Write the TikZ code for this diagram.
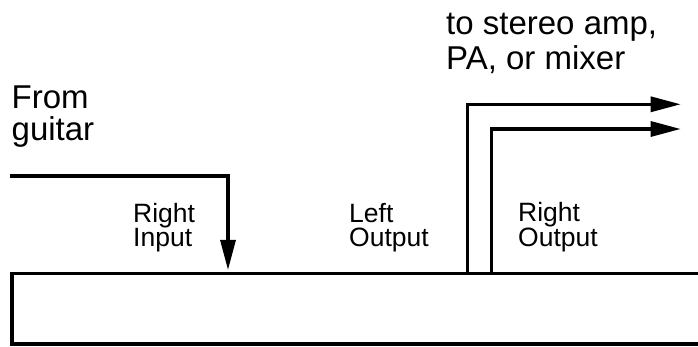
\documentclass[tikz,border=0pt]{standalone}
\usepackage{fontspec}
\setmainfont{Liberation Sans}
\usetikzlibrary{arrows.meta}
\begin{document}
\begin{tikzpicture}[x=1pt,y=1pt,
  wire/.style={line width=3.2pt},
  arrowwire/.style={wire,-{Triangle[length=30pt,width=15pt]}},
  bigtext/.style={inner sep=0pt,anchor=base west,align=left,font=\fontsize{33}{32}\selectfont},
  bigtextb/.style={inner sep=0pt,anchor=base west,align=left,font=\fontsize{33}{35}\selectfont},
  smalltext/.style={inner sep=0pt,anchor=base west,align=left,font=\fontsize{26.5}{24}\selectfont},
  unitbox/.style={draw,line width=3.2pt,outer sep=0pt,inner sep=0pt,minimum width=720pt,minimum height=70.7pt,anchor=north west}]
\useasboundingbox (0,0) rectangle (698,347);
\clip (0,0) rectangle (698,347);
\node[unitbox] (unit) at (12,73.7) {};
% labels
\node[bigtext] (from) at (11.5,206) {From\\guitar};
\node[bigtextb] (dest) at (446,277.7) {to stereo amp,\\PA, or mixer};
\node[smalltext] (rin) at (133,100) {Right\\Input};
\node[smalltext] (lo) at (349,100) {Left\\Output};
\node[smalltext] (ro) at (518,100) {Right\\Output};
% connector points
\coordinate (gtr) at (10,171);
\coordinate (inport) at (228,77);
\coordinate (loutport) at (467.3,73.7);
\coordinate (routport) at (491.7,73.7);
\coordinate (lend) at (680.7,242.7);
\coordinate (rend) at (680.7,218);
\draw[arrowwire] (gtr) -| (inport);
\draw[arrowwire] (loutport) |- (lend);
\draw[arrowwire] (routport) |- (rend);
\end{tikzpicture}
\end{document}
